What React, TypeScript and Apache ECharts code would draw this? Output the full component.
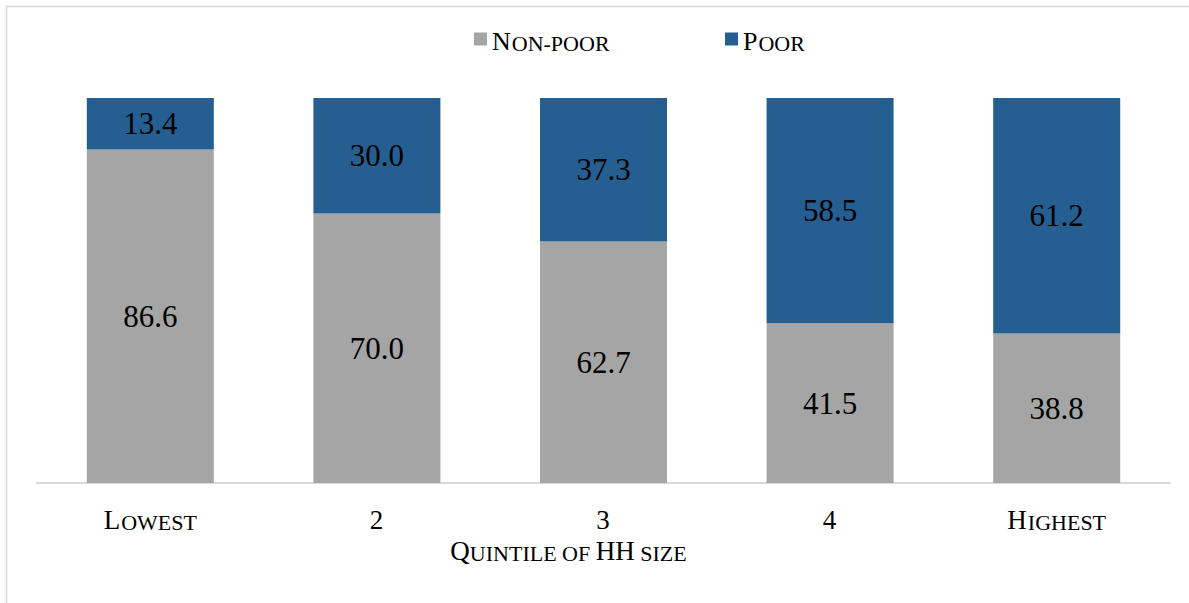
import { useEffect, useRef } from 'react';
import * as echarts from 'echarts';

// Household-size quintiles and the share of each group (per cent)
const quintiles = ['Lowest', '2', '3', '4', 'Highest'];
const nonPoor = [86.6, 70.0, 62.7, 41.5, 38.8];
const poor = [13.4, 30.0, 37.3, 58.5, 61.2];
const seriesNames = ['Non-poor', 'Poor'];
const axisTitle = 'Quintile of HH size';

const SERIF = 'Liberation Serif';
const GREY = '#A5A5A5';
const BLUE = '#255E91';

// Turn a label into rich text that imitates small capitals:
// capitals and digits keep the full size, lower-case letters become smaller capitals.
function smallCaps(text: string): string {
  let out = '';
  let run = '';
  let runBig: boolean | null = null;
  const flush = () => {
    if (run) out += `{${runBig ? 'big' : 'small'}|${run}}`;
    run = '';
  };
  for (const ch of text) {
    const big = /[A-Z0-9]/.test(ch);
    if (runBig !== null && big !== runBig) flush();
    runBig = big;
    run += ch.toUpperCase();
  }
  flush();
  return out;
}

const capsRich = (big: number, small: number, gap = 0) => ({
  big: {
    fontFamily: SERIF, fontSize: big, color: '#000', verticalAlign: 'bottom' as const,
    lineHeight: big + 4, padding: [0, gap, 0, 0],
  },
  small: {
    fontFamily: SERIF, fontSize: small, color: '#000', verticalAlign: 'bottom' as const,
    lineHeight: big + 4,
  },
});

export default function App() {
  const ref = useRef<HTMLDivElement>(null);

  useEffect(() => {
    if (!ref.current) return;
    const chart = echarts.init(ref.current, undefined, { renderer: 'svg' });

    const legendBase = {
      orient: 'horizontal' as const,
      top: 23,
      itemWidth: 13,
      itemHeight: 13,
      icon: 'rect',
      formatter: (name: string) => smallCaps(name),
      textStyle: { fontFamily: SERIF, rich: capsRich(26, 22, 1) },
    };

    const barLabel = {
      show: true,
      position: 'inside' as const,
      fontFamily: SERIF,
      fontSize: 31,
      color: '#000',
      formatter: (p: any) => Number(p.value).toFixed(1),
    };

    chart.setOption({
      animation: false,
      backgroundColor: '#fff',
      textStyle: { fontFamily: SERIF },
      graphic: [
        {
          type: 'rect',
          shape: { x: 6.5, y: 6.5, width: 1300, height: 800 },
          style: { fill: 'none', stroke: '#d9d9d9', lineWidth: 1.5 },
          silent: true,
        },
      ],
      legend: [
        { ...legendBase, left: 469, data: [seriesNames[0]] },
        { ...legendBase, left: 720, data: [seriesNames[1]] },
      ],
      grid: { left: 37, right: 19, top: 98, bottom: 120, containLabel: false },
      xAxis: {
        type: 'category',
        data: quintiles,
        axisLine: { lineStyle: { color: '#d9d9d9', width: 2 } },
        axisTick: { show: false },
        axisLabel: {
          margin: 19,
          fontFamily: SERIF,
          formatter: (v: string) => smallCaps(v),
          rich: capsRich(27, 22, 1),
        },
        name: smallCaps(axisTitle),
        nameLocation: 'middle',
        nameGap: 48,
        nameTextStyle: { fontFamily: SERIF, padding: [0, 70, 0, 0], rich: capsRich(27, 22) },
      },
      yAxis: {
        type: 'value',
        min: 0,
        max: 100,
        show: false,
      },
      series: [
        {
          name: seriesNames[0],
          type: 'bar',
          stack: 'share',
          data: nonPoor,
          barWidth: 127,
          itemStyle: { color: GREY },
          label: barLabel,
        },
        {
          name: seriesNames[1],
          type: 'bar',
          stack: 'share',
          data: poor,
          barWidth: 127,
          itemStyle: { color: BLUE },
          label: barLabel,
        },
      ],
    });

    return () => chart.dispose();
  }, []);

  return (
    <div
      ref={ref}
      style={{ position: 'fixed', left: 0, top: 0, width: 1189, height: 603 }}
    />
  );
}
